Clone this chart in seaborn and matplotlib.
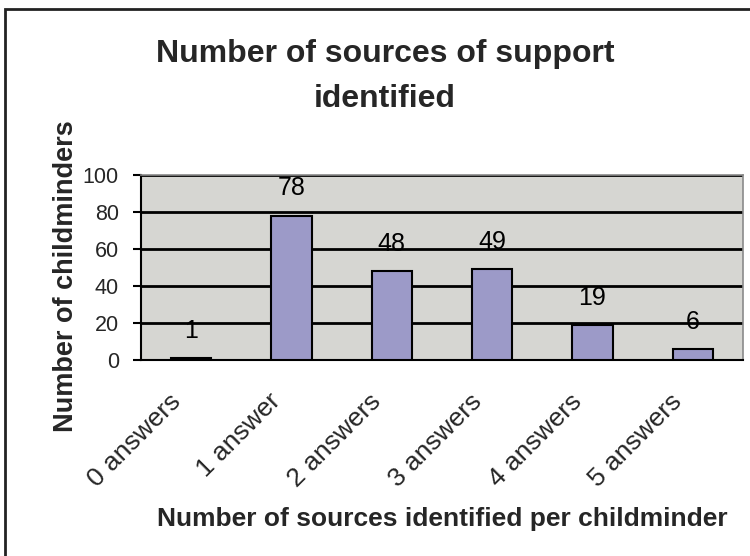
import matplotlib
matplotlib.use("Agg")
import matplotlib.pyplot as plt
from matplotlib.patches import Rectangle
import seaborn as sns
import pandas as pd

categories = ["0 answers", "1 answer", "2 answers", "3 answers", "4 answers", "5 answers"]
counts = [1, 78, 48, 49, 19, 6]
y_ticks = [0, 20, 40, 60, 80, 100]

title_lines = ["Number of sources of support", "identified"]
x_label = "Number of sources identified per childminder"
y_label = "Number of childminders"

sns.set_style("white")
plt.rcParams["font.family"] = ["Liberation Sans", "DejaVu Sans"]

df = pd.DataFrame({"category": categories, "count": counts})

W, H = 750, 556
fig = plt.figure(figsize=(W / 100, H / 100), dpi=100)
fig.patch.set_facecolor("white")

# chart border (runs past the right and bottom edges of the canvas)
fig.patches.append(Rectangle((5 / W, -0.05), 1.2, 1 - 9 / H + 0.05,
                             transform=fig.transFigure, fill=False,
                             edgecolor="#222222", linewidth=2, zorder=0))

ax = fig.add_axes([141 / W, 1 - 360 / H, (743 - 141) / W, (360 - 175) / H])
ax.set_facecolor("#d6d6d2")

sns.barplot(data=df, x="category", y="count", ax=ax, width=0.4,
            color="#9c9ac8", edgecolor="black", linewidth=1.5,
            saturation=1, zorder=3)

ax.set_xlim(-0.5, len(categories) - 0.5)
ax.set_ylim(0, 100)
ax.set_yticks(y_ticks)
ax.yaxis.grid(True, color="black", linewidth=2)
ax.set_axisbelow(True)

for bars in ax.containers:
    ax.bar_label(bars, labels=[str(v) for v in counts], padding=11,
                 fontsize=18, color="black")

# tick marks on category boundaries, slanted names under each category
ax.set_xticks([i - 0.5 for i in range(len(categories) + 1)])
ax.set_xticklabels([])
for i, name in enumerate(categories):
    ax.annotate(name, xy=(i, 0), xycoords=("data", "axes fraction"),
                xytext=(-16.5, -21), textcoords="offset points",
                rotation=45, rotation_mode="anchor", ha="right", va="top",
                fontsize=19, annotation_clip=False)

ax.tick_params(axis="x", which="major", direction="out", length=6.5, width=1.5, color="black")
ax.tick_params(axis="y", direction="out", length=6, width=1.5, color="black",
               labelsize=15.5, pad=10, left=True)

for side in ["left", "bottom"]:
    ax.spines[side].set_color("black")
    ax.spines[side].set_linewidth(1.5)
for side in ["top", "right"]:
    ax.spines[side].set_visible(True)
    ax.spines[side].set_color("#8a8a8a")
    ax.spines[side].set_linewidth(1.2)

ax.set_xlabel("")
ax.set_ylabel("")
fig.text(385 / W, 1 - 62 / H, title_lines[0], ha="center", va="baseline",
         fontsize=23, fontweight="bold")
fig.text(385 / W, 1 - 107 / H, title_lines[1], ha="center", va="baseline",
         fontsize=23, fontweight="bold")
fig.text(73 / W, 1 - 276 / H, y_label, ha="center", va="baseline",
         rotation=90, rotation_mode="anchor", fontsize=19.5, fontweight="bold")
fig.text(442 / W, 1 - 526 / H, x_label, ha="center", va="baseline",
         fontsize=19, fontweight="bold")

fig.savefig("out.png", dpi=100)
